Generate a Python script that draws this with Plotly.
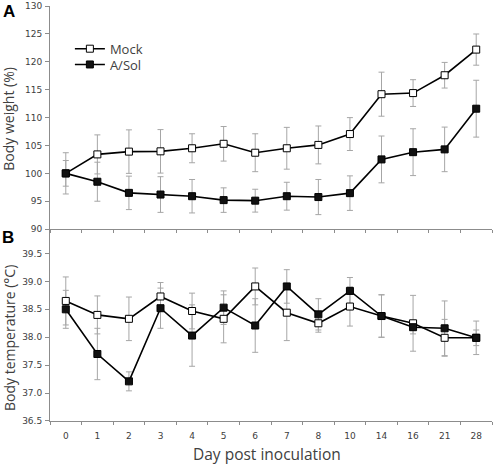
import plotly.graph_objects as go

days = ["0", "1", "2", "3", "4", "5", "6", "7", "8", "10", "14", "16", "21", "28"]

weight_mock = [100, 103.4, 103.9, 103.95, 104.5, 105.3, 103.7, 104.5, 105.1, 107.05, 114.2, 114.4, 117.6, 122.2]
weight_mock_sd = [3.7, 3.5, 3.9, 3.9, 2.6, 3.1, 3.4, 3.75, 3.4, 2.95, 3.95, 2.4, 2.3, 2.8]
weight_asol = [100, 98.5, 96.5, 96.2, 95.9, 95.2, 95.1, 95.9, 95.75, 96.45, 102.5, 103.8, 104.3, 111.6]
weight_asol_sd = [2.3, 3.5, 3.0, 3.2, 3.0, 2.2, 2.05, 2.5, 3.15, 3.1, 4.2, 4.2, 4.0, 5.1]

temp_mock = [38.65, 38.40, 38.33, 38.73, 38.47, 38.33, 38.91, 38.44, 38.25, 38.55, 38.38, 38.25, 37.99, 37.99]
temp_mock_sd = [0.43, 0.34, 0.39, 0.25, 0.32, 0.43, 0.33, 0.5, 0.16, 0.35, 0.38, 0.5, 0.33, 0.3]
temp_asol = [38.50, 37.70, 37.21, 38.52, 38.03, 38.53, 38.21, 38.91, 38.41, 38.83, 38.38, 38.18, 38.16, 37.99]
temp_asol_sd = [0.34, 0.46, 0.17, 0.36, 0.55, 0.30, 0.48, 0.30, 0.28, 0.24, 0.38, 0.12, 0.49, 0.14]

weight_ticks = [90, 95, 100, 105, 110, 115, 120, 125, 130]
temp_ticks = [36.5, 37.0, 37.5, 38.0, 38.5, 39.0, 39.5]

ERR = "#a6a6a6"
AXC = "#8c8c8c"
TXT = "#404040"
TICKFONT = dict(family="DejaVu Sans", size=9, color=TXT)
LEGFONT = dict(family="Open Sans", size=13, color=TXT)

fig = go.Figure()


def add_err(y, sd, xa, ya):
    fig.add_trace(go.Scatter(
        x=days, y=y, mode="markers", marker=dict(size=1, opacity=0),
        error_y=dict(type="data", array=sd, visible=True, color=ERR, thickness=1, width=3),
        showlegend=False, hoverinfo="skip", xaxis=xa, yaxis=ya))


def add_line(y, name, fill, xa, ya, legend):
    fig.add_trace(go.Scatter(
        x=days, y=y, mode="lines+markers", name=name,
        line=dict(color="black", width=1.6),
        marker=dict(symbol="square", size=7, color=fill, line=dict(color="black", width=1)),
        showlegend=legend is not None, legend=legend or "legend", xaxis=xa, yaxis=ya))


add_err(weight_mock, weight_mock_sd, "x", "y")
add_err(weight_asol, weight_asol_sd, "x", "y")
add_err(temp_mock, temp_mock_sd, "x2", "y2")
add_err(temp_asol, temp_asol_sd, "x2", "y2")
add_line(weight_mock, "Mock", "white", "x", "y", "legend")
add_line(weight_asol, "A/Sol", "#111111", "x", "y", "legend2")
add_line(temp_mock, "Mock", "white", "x2", "y2", None)
add_line(temp_asol, "A/Sol", "#111111", "x2", "y2", None)

xcommon = dict(type="category", categoryorder="array", categoryarray=days,
               range=[-0.5, 13.5], showline=True, linecolor=AXC, linewidth=1,
               ticks="outside", ticklen=3, tickcolor=AXC, tickson="boundaries",
               showgrid=False, zeroline=False, tickfont=TICKFONT)

ycommon = dict(showline=True, linecolor=AXC, linewidth=1, ticks="outside", ticklen=4,
               tickcolor=AXC, showgrid=False, zeroline=False, tickfont=TICKFONT,
               ticklabelstandoff=1, ticklabeloverflow="allow")

legcommon = dict(xanchor="left", yanchor="middle", bgcolor="rgba(0,0,0,0)",
                 font=LEGFONT, itemwidth=30)

fig.update_layout(
    width=493, height=464,
    margin=dict(l=50, r=1, t=3, b=43),
    plot_bgcolor="white", paper_bgcolor="white",
    xaxis=dict(**xcommon, domain=[0, 1], anchor="y", showticklabels=False),
    xaxis2=dict(**xcommon, domain=[0, 1], anchor="y2", showticklabels=True,
                ticklabelstandoff=6),
    yaxis=dict(**ycommon, domain=[0.4624, 1], range=[90, 130.02], tickvals=weight_ticks),
    yaxis2=dict(**ycommon, domain=[0, 0.4615], range=[36.5, 39.93], tickvals=temp_ticks,
                ticktext=[f"{v:.1f}" for v in temp_ticks]),
    legend=dict(**legcommon, x=0.045, y=0.897),
    legend2=dict(**legcommon, x=0.045, y=0.859),
    showlegend=True,
)

fig.add_annotation(text="Body weight (%)", xref="paper", yref="paper", x=0, xshift=-41,
                   y=0.7284, textangle=-90, showarrow=False, xanchor="center", yanchor="middle",
                   font=dict(family="Open Sans", size=14, color=TXT))
fig.add_annotation(text="Body temperature (°C)", xref="paper", yref="paper", x=0, xshift=-41,
                   y=0.2, textangle=-90, showarrow=False, xanchor="center", yanchor="middle",
                   font=dict(family="Open Sans", size=14, color=TXT))
fig.add_annotation(text="Day post inoculation", xref="paper", yref="paper", x=0.49, y=0,
                   yshift=-33, xanchor="center", yanchor="middle", showarrow=False,
                   font=dict(family="Open Sans", size=15.5, color=TXT))
fig.add_annotation(text="<b>A</b>", xref="paper", yref="paper", x=0, xshift=-41, y=1,
                   yshift=-5, xanchor="center", yanchor="middle", showarrow=False,
                   font=dict(family="Liberation Sans", size=17, color="black"))
fig.add_annotation(text="<b>B</b>", xref="paper", yref="paper", x=0, xshift=-42, y=0.4615,
                   yshift=-8, xanchor="center", yanchor="middle", showarrow=False,
                   font=dict(family="Liberation Sans", size=17, color="black"))

fig.write_html("out.html", config={"displayModeBar": False},
               post_script="document.body.style.margin='0';")
